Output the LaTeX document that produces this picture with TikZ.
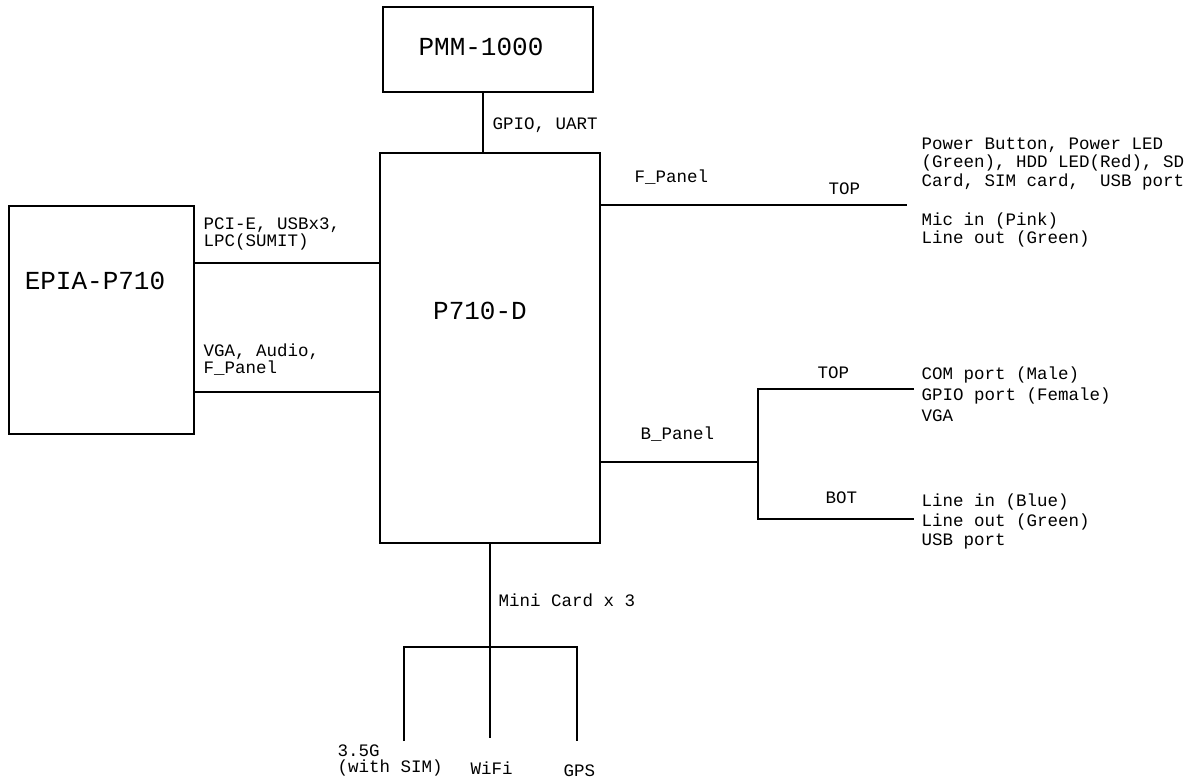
\documentclass[tikz,border=0pt]{standalone}
\usepackage{fontspec}
\setmonofont{Liberation Mono}
\usetikzlibrary{positioning}

\begin{document}
\begin{tikzpicture}[x=1pt,y=-1pt,line width=1.1pt,
  blk/.style={draw,inner sep=0pt},
  big/.style={font=\ttfamily\fontsize{26}{28}\selectfont,inner sep=0pt},
  lbl/.style={font=\ttfamily\fontsize{17.5}{18.5}\selectfont,inner sep=0pt,align=left,anchor=west}]

\useasboundingbox (0,0) rectangle (1195,781);

% boxes
\node[blk,minimum width=210pt,minimum height=85pt] (pmm) at (488,49.5) {};
\node[blk,minimum width=220pt,minimum height=390pt] (p710) at (490,348) {};
\node[blk,minimum width=185pt,minimum height=228pt] (epia) at (101.5,320) {};

\node[big] (pmmtxt) at (481,47) {PMM-1000};
\node[big] (p710txt) at (480,311) {P710-D};
\node[big] (epiatxt) at (95,281) {EPIA-P710};

% top link
\draw ([xshift=-5pt]pmm.south) -- ([xshift=-5pt]pmm.south |- p710.north);
\node[lbl] (gpio) at (492,125) {GPIO, UART};

% left links
\coordinate (pci) at (0,263);
\coordinate (vga) at (0,392);
\draw (pci -| epia.east) -- (pci -| p710.west);
\draw (vga -| epia.east) -- (vga -| p710.west);
\node[lbl,font=\ttfamily\fontsize{17.5}{17}\selectfont] (pcitxt) at (203,233.5) {PCI-E, USBx3,\\LPC(SUMIT)};
\node[lbl,font=\ttfamily\fontsize{17.5}{17}\selectfont] (vgatxt) at (203,359.5) {VGA, Audio,\\F\_Panel};

% front panel
\coordinate (fend) at (907,205);
\draw (fend -| p710.east) -- (fend);
\node[lbl] (fpanel) at (634,177) {F\_Panel};
\node[lbl] (ftop) at (828,189) {TOP};
\node[lbl] (fitems) at (921,163.5) {Power Button, Power LED\\(Green), HDD LED(Red), SD\\Card, SIM card,\ \ USB port};
\node[lbl] (faudio) at (921,230) {Mic in (Pink)\\Line out (Green)};

% back panel
\coordinate (bsplit) at (758,462);
\coordinate (btop) at (914,389);
\coordinate (bbot) at (914,519);
\draw (bsplit -| p710.east) -- (bsplit);
\draw (btop) -- (btop -| bsplit) -- (bbot -| bsplit) -- (bbot);
\node[lbl] (bpanel) at (640,434) {B\_Panel};
\node[lbl] (btoptxt) at (817,373) {TOP};
\node[lbl] (bbottxt) at (825,498) {BOT};
\node[lbl] (btopitems) at (921,394.5) {COM port (Male)\\[2.5pt]GPIO port (Female)\\[2.5pt]VGA};
\node[lbl] (bbotitems) at (921,521.5) {Line in (Blue)\\[1pt]Line out (Green)\\[1pt]USB port};

% mini cards
\coordinate (mc) at (489,647);
\coordinate (g35end) at (404,741);
\coordinate (wifiend) at (489,738);
\coordinate (gpsend) at (577,741);
\draw (p710.south) -- (p710.south |- wifiend);
\draw (g35end) -- (g35end |- mc) -- (gpsend |- mc) -- (gpsend);
\node[lbl] (minicard) at (498,600) {Mini Card x 3};
\node[lbl,font=\ttfamily\fontsize{17.5}{16}\selectfont] (g35) at (337,760) {3.5G\\(with SIM)};
\node[lbl] (wifi) at (470,768) {WiFi};
\node[lbl] (gps) at (563,771) {GPS};

\end{tikzpicture}
\end{document}
